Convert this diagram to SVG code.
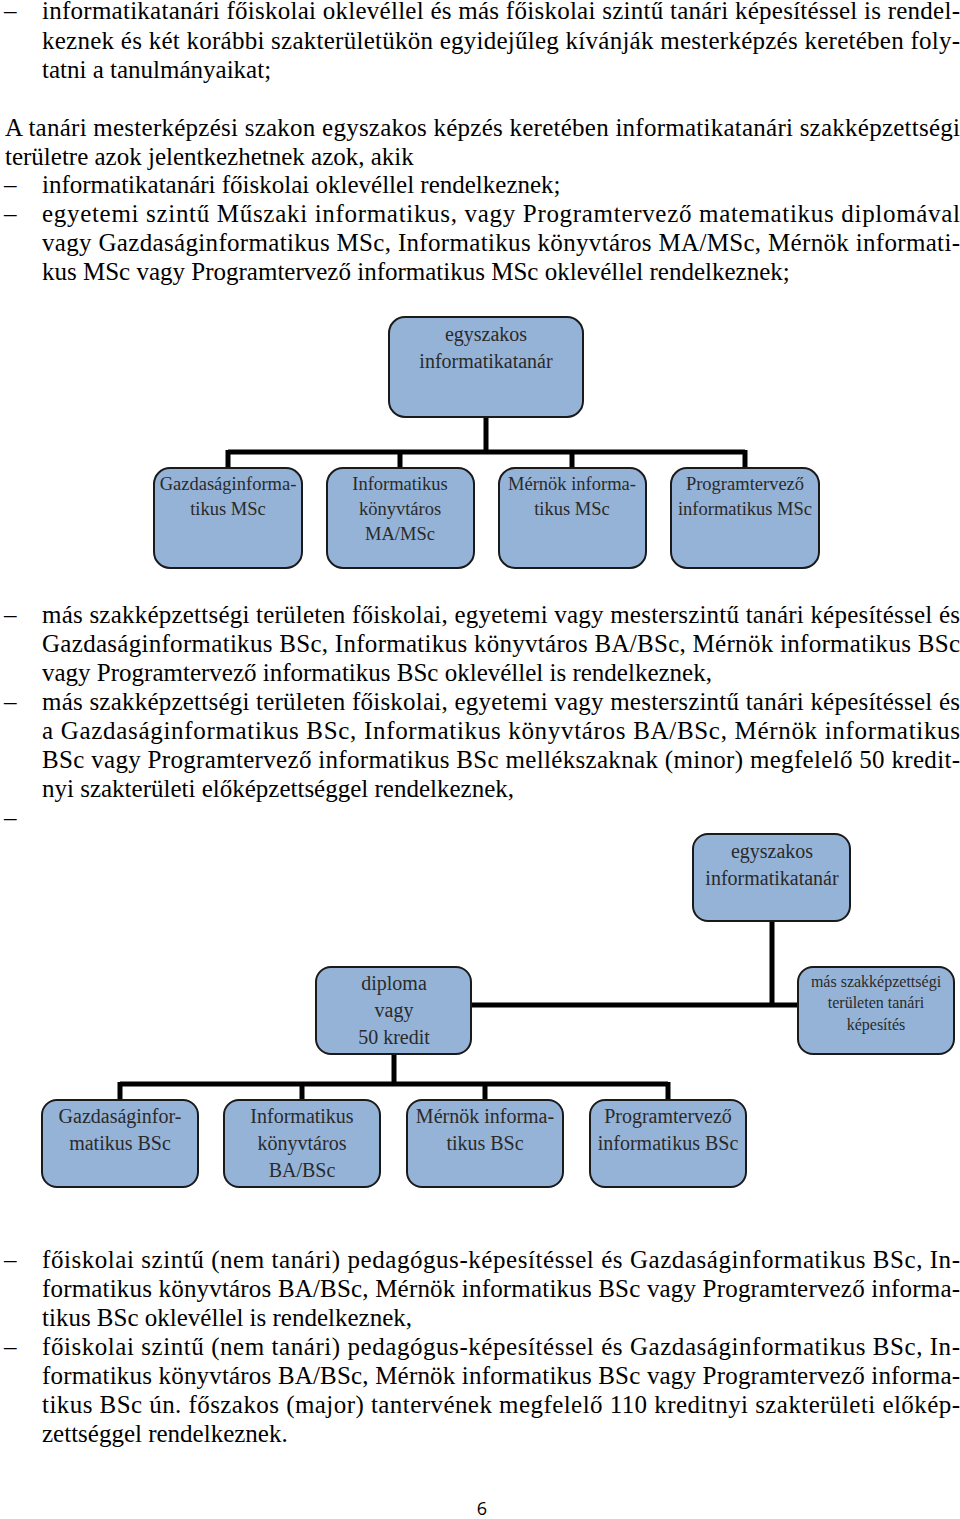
<svg xmlns="http://www.w3.org/2000/svg" width="960" height="1519" viewBox="0 0 960 1519">
<style>
.t{font-family:"Liberation Serif","Times New Roman",serif;font-size:25px;fill:#000}
.n{fill:#95b3d7;stroke:#1a1a1a;stroke-width:2}
.nt{font-family:"Liberation Serif","Times New Roman",serif;font-size:18.5px;fill:#2a2a2a;text-anchor:middle}
.nl{font-family:"Liberation Serif","Times New Roman",serif;font-size:20px;fill:#2a2a2a;text-anchor:middle}
.ns{font-family:"Liberation Serif","Times New Roman",serif;font-size:16px;fill:#2a2a2a;text-anchor:middle}
.c{stroke:#000;stroke-width:5;fill:none}
.pg{font-family:"Open Sans","DejaVu Sans",sans-serif;font-size:18px;fill:#000;text-anchor:middle}
</style>
<rect width="960" height="1519" fill="#fff"/>
<g id="body-text">
<text class="t" x="4" y="19">–</text>
<text class="t" x="42" y="19" textLength="918" lengthAdjust="spacing">informatikatanári főiskolai oklevéllel és más főiskolai szintű tanári képesítéssel is rendel-</text>
<text class="t" x="42" y="49" textLength="918" lengthAdjust="spacing">keznek és két korábbi szakterületükön egyidejűleg kívánják mesterképzés keretében foly-</text>
<text class="t" x="42" y="78">tatni a tanulmányaikat;</text>
<text class="t" x="5" y="136" textLength="955" lengthAdjust="spacing">A tanári mesterképzési szakon egyszakos képzés keretében informatikatanári szakképzettségi</text>
<text class="t" x="5" y="165">területre azok jelentkezhetnek azok, akik</text>
<text class="t" x="4" y="193">–</text>
<text class="t" x="42" y="193">informatikatanári főiskolai oklevéllel rendelkeznek;</text>
<text class="t" x="4" y="222">–</text>
<text class="t" x="42" y="222" textLength="918" lengthAdjust="spacing">egyetemi szintű Műszaki informatikus, vagy Programtervező matematikus diplomával</text>
<text class="t" x="42" y="251" textLength="918" lengthAdjust="spacing">vagy Gazdaságinformatikus MSc, Informatikus könyvtáros MA/MSc, Mérnök informati-</text>
<text class="t" x="42" y="280">kus MSc vagy Programtervező informatikus MSc oklevéllel rendelkeznek;</text>

<text class="t" x="4" y="623">–</text>
<text class="t" x="42" y="623" textLength="918" lengthAdjust="spacing">más szakképzettségi területen főiskolai, egyetemi vagy mesterszintű tanári képesítéssel és</text>
<text class="t" x="42" y="652" textLength="918" lengthAdjust="spacing">Gazdaságinformatikus BSc, Informatikus könyvtáros BA/BSc, Mérnök informatikus BSc</text>
<text class="t" x="42" y="681">vagy Programtervező informatikus BSc oklevéllel is rendelkeznek,</text>
<text class="t" x="4" y="710">–</text>
<text class="t" x="42" y="710" textLength="918" lengthAdjust="spacing">más szakképzettségi területen főiskolai, egyetemi vagy mesterszintű tanári képesítéssel és</text>
<text class="t" x="42" y="739" textLength="918" lengthAdjust="spacing">a Gazdaságinformatikus BSc, Informatikus könyvtáros BA/BSc, Mérnök informatikus</text>
<text class="t" x="42" y="768" textLength="918" lengthAdjust="spacing">BSc vagy Programtervező informatikus BSc mellékszaknak (minor) megfelelő 50 kredit-</text>
<text class="t" x="42" y="797">nyi szakterületi előképzettséggel rendelkeznek,</text>
<text class="t" x="4" y="826">–</text>

<text class="t" x="4" y="1268">–</text>
<text class="t" x="42" y="1268" textLength="918" lengthAdjust="spacing">főiskolai szintű (nem tanári) pedagógus-képesítéssel és Gazdaságinformatikus BSc, In-</text>
<text class="t" x="42" y="1297" textLength="918" lengthAdjust="spacing">formatikus könyvtáros BA/BSc, Mérnök informatikus BSc vagy Programtervező informa-</text>
<text class="t" x="42" y="1326">tikus BSc oklevéllel is rendelkeznek,</text>
<text class="t" x="4" y="1355">–</text>
<text class="t" x="42" y="1355" textLength="918" lengthAdjust="spacing">főiskolai szintű (nem tanári) pedagógus-képesítéssel és Gazdaságinformatikus BSc, In-</text>
<text class="t" x="42" y="1384" textLength="918" lengthAdjust="spacing">formatikus könyvtáros BA/BSc, Mérnök informatikus BSc vagy Programtervező informa-</text>
<text class="t" x="42" y="1413" textLength="918" lengthAdjust="spacing">tikus BSc ún. főszakos (major) tantervének megfelelő 110 kreditnyi szakterületi előkép-</text>
<text class="t" x="42" y="1442">zettséggel rendelkeznek.</text>
<text class="pg" x="482" y="1515">6</text>
</g>

<g id="connectors">
<path class="c" d="M486 417 V452 M228 452 H745 M228 450 V468 M400 450 V468 M572 450 V468 M745 450 V468"/>
<path class="c" d="M772 921 V1005 M471 1005 H798 M394 1054 V1084 M120 1084 H668 M120 1082 V1100 M302 1082 V1100 M485 1082 V1100 M668 1082 V1100"/>
</g>

<g id="d1-top">
<rect class="n" x="389" y="317" width="194" height="100" rx="16"/>
<text class="nl" x="486" y="341">egyszakos</text>
<text class="nl" x="486" y="368">informatikatanár</text>
</g>
<g id="d1-gazd">
<rect class="n" x="154" y="468" width="148" height="100" rx="16"/>
<text class="nt" x="228" y="490">Gazdaságinforma-</text>
<text class="nt" x="228" y="515">tikus MSc</text>
</g>
<g id="d1-konyv">
<rect class="n" x="327" y="468" width="147" height="100" rx="16"/>
<text class="nt" x="400" y="490">Informatikus</text>
<text class="nt" x="400" y="515">könyvtáros</text>
<text class="nt" x="400" y="540">MA/MSc</text>
</g>
<g id="d1-mernok">
<rect class="n" x="499" y="468" width="147" height="100" rx="16"/>
<text class="nt" x="572" y="490">Mérnök informa-</text>
<text class="nt" x="572" y="515">tikus MSc</text>
</g>
<g id="d1-prog">
<rect class="n" x="671" y="468" width="148" height="100" rx="16"/>
<text class="nt" x="745" y="490">Programtervező</text>
<text class="nt" x="745" y="515">informatikus MSc</text>
</g>

<g id="d2-top">
<rect class="n" x="693" y="834" width="157" height="87" rx="15"/>
<text class="nl" x="772" y="858">egyszakos</text>
<text class="nl" x="772" y="885">informatikatanár</text>
</g>
<g id="d2-diploma">
<rect class="n" x="316" y="967" width="155" height="87" rx="15"/>
<text class="nl" x="394" y="990">diploma</text>
<text class="nl" x="394" y="1017">vagy</text>
<text class="nl" x="394" y="1044">50 kredit</text>
</g>
<g id="d2-mas">
<rect class="n" x="798" y="967" width="156" height="87" rx="15"/>
<text class="ns" x="876" y="987">más szakképzettségi</text>
<text class="ns" x="876" y="1008">területen tanári</text>
<text class="ns" x="876" y="1030">képesítés</text>
</g>
<g id="d2-gazd">
<rect class="n" x="42" y="1100" width="156" height="87" rx="15"/>
<text class="nl" x="120" y="1123">Gazdaságinfor-</text>
<text class="nl" x="120" y="1150">matikus BSc</text>
</g>
<g id="d2-konyv">
<rect class="n" x="224" y="1100" width="156" height="87" rx="15"/>
<text class="nl" x="302" y="1123">Informatikus</text>
<text class="nl" x="302" y="1150">könyvtáros</text>
<text class="nl" x="302" y="1177">BA/BSc</text>
</g>
<g id="d2-mernok">
<rect class="n" x="407" y="1100" width="156" height="87" rx="15"/>
<text class="nl" x="485" y="1123">Mérnök informa-</text>
<text class="nl" x="485" y="1150">tikus BSc</text>
</g>
<g id="d2-prog">
<rect class="n" x="590" y="1100" width="156" height="87" rx="15"/>
<text class="nl" x="668" y="1123">Programtervező</text>
<text class="nl" x="668" y="1150">informatikus BSc</text>
</g>
</svg>
